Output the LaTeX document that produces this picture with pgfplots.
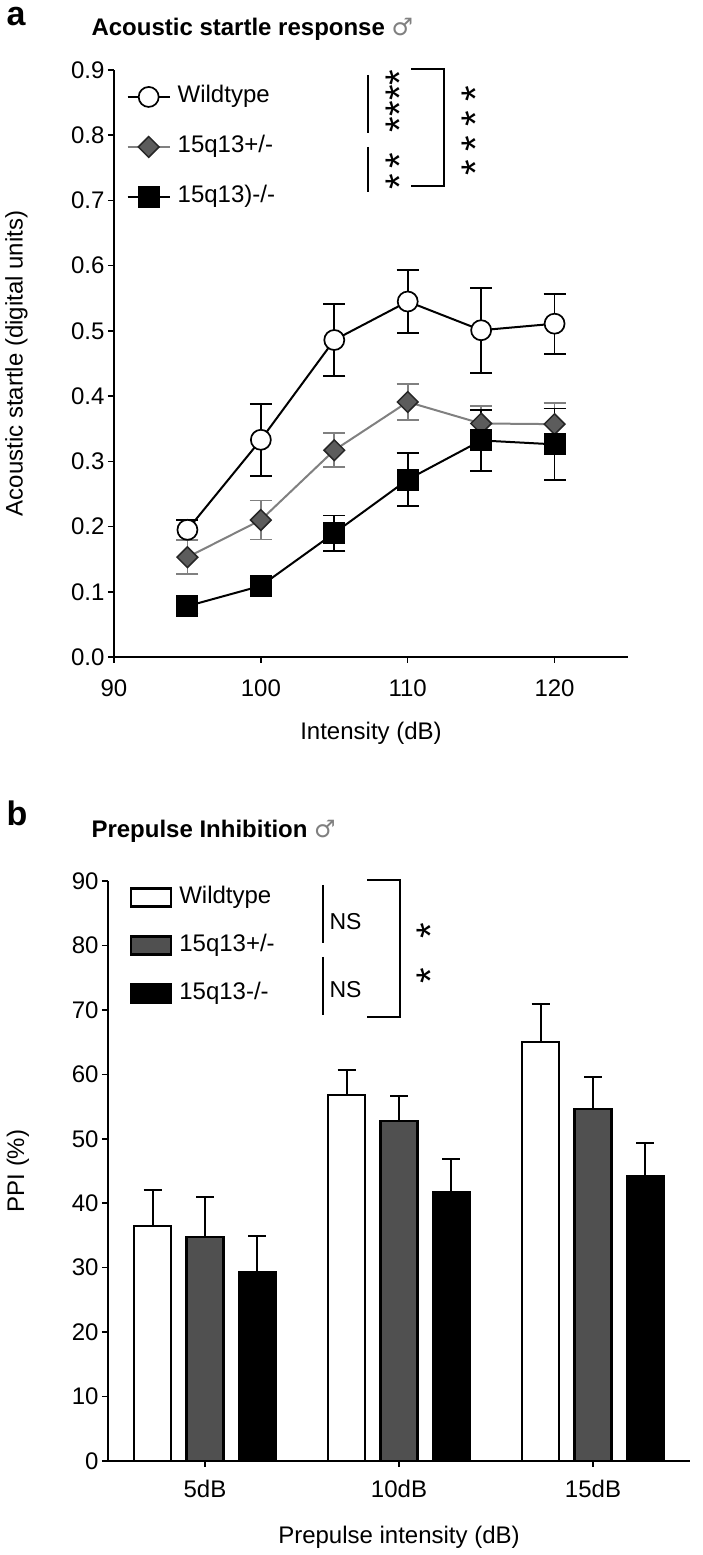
\documentclass[border=0pt]{standalone}
\usepackage{fontspec}
\setmainfont{Liberation Sans}
\newfontfamily\symfont{DejaVu Sans}
\usepackage{pgfplots}
\pgfplotsset{compat=1.18}
\definecolor{hetline}{HTML}{808080}
\definecolor{hetfill}{HTML}{5C5C5C}
\definecolor{bargray}{HTML}{505050}
\newcommand{\fs}[1]{\fontsize{#1}{#1}\selectfont}
\begin{document}
\begin{tikzpicture}[x=1pt,y=1pt]
\path (0,0) rectangle (703,1555);
\pgfplotsset{
  panel/.style={
    scale only axis,
    axis x line*=bottom, axis y line*=left,
    axis line style={line width=1.5pt,-},
    tick align=outside, major tick length=6pt,
    tick style={line width=1.5pt,black},
    xtick pos=bottom, ytick pos=left,
    tick label style={font=\fs{24}},
    label style={font=\fs{24}},
    /pgf/number format/assume math mode=true,
    clip=false,
  },
}
% significance stars are set as one rotated string, as in the original
\tikzset{sig/.style={rotate=90,inner sep=0pt,font=\fs{40}}}
% ---------- panel a
\node[anchor=base west,font=\fs{34}\bfseries] at (3,1555-26) {a};
\node[anchor=base west,font=\fs{24}\bfseries] at (88,1555-36) {Acoustic startle response {\mdseries\color{gray}\symfont ♂}};
\begin{axis}[panel,
  at={(114pt,898pt)}, anchor=south west,
  width=514pt, height=587pt,
  xmin=90, xmax=125, ymin=0, ymax=0.9,
  xtick={90,100,110,120},
  ytick={0,0.1,...,0.9},
  xticklabel style={yshift=-13pt},
  yticklabel style={/pgf/number format/.cd,fixed,fixed zerofill,precision=1},
  xlabel={Intensity (dB)},
  ylabel={Acoustic startle (digital units)},
  xlabel style={at={(axis description cs:0.5,0)},anchor=base,yshift=-83pt},
  ylabel style={at={(axis description cs:-0.19,0.5)},anchor=center},
  legend style={at={(axis cs:90.85,0.782)},anchor=west,draw=none,fill=none,
    font=\fs{24},row sep=26pt,inner xsep=0pt,inner ysep=0pt,
    nodes={inner xsep=7pt,inner ysep=0pt,text height=18pt,text depth=6pt},cells={anchor=west}},
  legend image code/.code={\draw[mark repeat=2,mark phase=2,#1] plot coordinates {(0pt,0pt)(21pt,0pt)(42pt,0pt)};},
  error bars/y dir=both, error bars/y explicit,
  error bars/error bar style={line width=1.8pt},
  error bars/error mark options={rotate=90,mark size=11pt,line width=1.8pt},
]
\addplot[black,line width=2pt,mark=*,mark size=10pt,mark options={fill=white,line width=1.7pt}]
  coordinates {(95,0.195) +- (0,0.015) (100,0.333) +- (0,0.055) (105,0.486) +- (0,0.055)
               (110,0.545) +- (0,0.048) (115,0.501) +- (0,0.065) (120,0.511) +- (0,0.046)};
\addlegendentry{Wildtype}
\addplot[hetline,line width=2pt,mark=square*,mark size=7.3pt,
  mark options={rotate=45,fill=hetfill,draw=black!85,line width=1.5pt},
  error bars/error bar style={line width=1.8pt,hetline},
  error bars/error mark options={rotate=90,mark size=11pt,line width=1.8pt,hetline}]
  coordinates {(95,0.153) +- (0,0.026) (100,0.210) +- (0,0.030) (105,0.317) +- (0,0.026)
               (110,0.391) +- (0,0.028) (115,0.358) +- (0,0.027) (120,0.357) +- (0,0.033)};
\addlegendentry{15q13+/-}
\addplot[black,line width=2pt,mark=square*,mark size=10pt,mark options={fill=black}]
  coordinates {(95,0.078) +- (0,0.010) (100,0.109) +- (0,0.010) (105,0.190) +- (0,0.027)
               (110,0.272) +- (0,0.041) (115,0.332) +- (0,0.047) (120,0.326) +- (0,0.055)};
\addlegendentry{15q13)-/-}
\end{axis}
% significance, panel a
\begin{scope}[line width=2.2pt]
\draw (368,1555-75) -- (368,1555-133);
\draw (368,1555-147) -- (368,1555-192);
\draw (411,1555-69) -- (444,1555-69) -- (444,1555-186) -- (411,1555-186);
\end{scope}
\node[sig] at (400,1555-101) {****};
\node[sig] at (400,1555-171) {*\kern5pt*};
\node[sig] at (476,1555-131) {*\kern9pt*\kern9pt*\kern9pt*};
% ---------- panel b
\node[anchor=base west,font=\fs{34}\bfseries] at (3,1555-826) {b};
\node[anchor=base west,font=\fs{24}\bfseries] at (88,1555-838) {Prepulse Inhibition {\mdseries\color{gray}\symfont ♂}};
\begin{axis}[panel,
  at={(108pt,94pt)}, anchor=south west,
  width=582pt, height=580pt,
  xmin=-0.5, xmax=2.5, ymin=0, ymax=90,
  xtick={0,1,2}, xticklabels={5dB,10dB,15dB},
  ytick={0,10,...,90},
  xticklabel style={yshift=-10pt},
  xlabel={Prepulse intensity (dB)},
  ylabel={PPI (\%)},
  xlabel style={at={(axis description cs:0.5,0)},anchor=base,yshift=-83pt},
  ylabel style={at={(axis description cs:-0.155,0.5)},anchor=center},
  ybar, bar width=0.19, bar shift=0pt,
  legend style={at={(axis cs:-0.387,80)},anchor=west,draw=none,fill=none,
    font=\fs{24},row sep=24pt,inner xsep=0pt,inner ysep=0pt,
    nodes={inner xsep=7pt,inner ysep=0pt,text height=18pt,text depth=6pt},cells={anchor=west}},
  legend image code/.code={\draw[#1,line width=2.2pt] (0pt,-9pt) rectangle (40pt,9pt);},
  error bars/y dir=plus, error bars/y explicit,
  error bars/error bar style={line width=2pt,black},
  error bars/error mark options={rotate=90,mark size=9pt,line width=2pt,black},
]
\addplot[draw=black,fill=white,line width=2.2pt]
  coordinates {(-0.27,36.5) +- (0,5.6) (0.73,56.8) +- (0,3.8) (1.73,65.0) +- (0,5.9)};
\addlegendentry{Wildtype}
\addplot[draw=black,fill=bargray,line width=2.2pt]
  coordinates {(0,34.8) +- (0,6.1) (1,52.7) +- (0,4.0) (2,54.6) +- (0,5.0)};
\addlegendentry{15q13+/-}
\addplot[draw=black,fill=black,line width=2.2pt]
  coordinates {(0.27,29.3) +- (0,5.6) (1.27,41.7) +- (0,5.1) (2.27,44.2) +- (0,5.2)};
\addlegendentry{15q13-/-}
\end{axis}
% significance, panel b
\begin{scope}[line width=2.2pt]
\draw (323,1555-885) -- (323,1555-943);
\draw (323,1555-957) -- (323,1555-1015);
\draw (367,1555-880) -- (400,1555-880) -- (400,1555-1017) -- (367,1555-1017);
\end{scope}
\node[anchor=west,font=\fs{23}] at (326,1555-922) {NS};
\node[anchor=west,font=\fs{23}] at (326,1555-990) {NS};
\node[sig] at (431,1555-953) {*\kern29pt*};
\end{tikzpicture}
\end{document}
